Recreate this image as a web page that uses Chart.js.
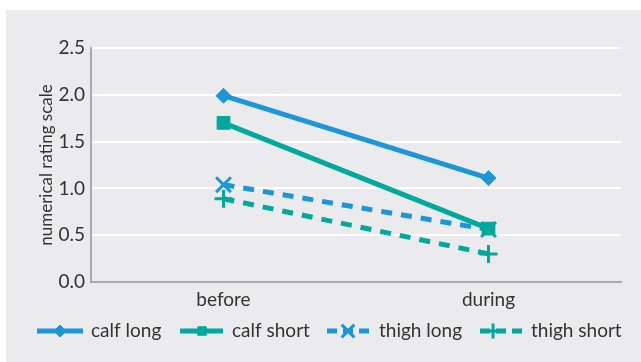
<!DOCTYPE html>
<html>
<head>
<meta charset="utf-8">
<script src="https://cdn.jsdelivr.net/npm/chart.js@4/dist/chart.umd.min.js"></script>
<style>
  html, body { margin: 0; padding: 0; background: #ffffff; }
  #wrap { width: 641px; height: 362px; }
</style>
</head>
<body>
<div id="wrap"><canvas id="nrsChart" width="641" height="362"></canvas></div>
<script>
var categories = ['before', 'during'];
var calfLong = [1.99, 1.11];
var calfShort = [1.70, 0.57];
var thighLong = [1.04, 0.56];
var thighShort = [0.89, 0.30];
var yTicks = [0, 0.5, 1, 1.5, 2, 2.5];

var blue = '#1a96d9';
var teal = '#00a99c';
var fontName = 'Lato';

// grey panel behind everything
var panelPlugin = {
	id: 'panel',
	beforeDraw: function(chart) {
		var ctx = chart.ctx;
		ctx.save();
		ctx.fillStyle = '#ebebee';
		ctx.fillRect(6, 10, chart.width - 6, chart.height - 10);
		ctx.restore();
	}
};

// legend drawn by hand: line + marker + text
var legendPlugin = {
	id: 'lineLegend',
	afterDraw: function(chart) {
		var ctx = chart.ctx;
		var y = 331;
		var items = [
			{ x1: 37, x2: 83, mx: 60, r: 6, tx: 91 },
			{ x1: 180, x2: 223, mx: 202, r: 6, tx: 232 },
			{ x1: 327, x2: 369, mx: 348, r: 9, tx: 379 },
			{ x1: 480, x2: 522, mx: 493, r: 7.5, tx: 531 }
		];
		ctx.save();
		chart.data.datasets.forEach(function(ds, i) {
			var it = items[i];
			ctx.strokeStyle = ds.borderColor;
			ctx.lineWidth = 5;
			ctx.setLineDash(ds.borderDash.length ? [10, 6] : []);
			ctx.beginPath();
			ctx.moveTo(it.x1, y);
			ctx.lineTo(it.x2, y);
			ctx.stroke();
			ctx.setLineDash([]);
			ctx.fillStyle = ds.pointBackgroundColor;
			ctx.strokeStyle = ds.pointBorderColor;
			ctx.lineWidth = ds.pointBorderWidth;
			Chart.helpers.drawPoint(ctx, {
				pointStyle: ds.pointStyle,
				radius: it.r,
				borderWidth: ds.pointBorderWidth,
				rotation: 0
			}, it.mx, y);
			ctx.fillStyle = '#333333';
			ctx.font = '19px ' + fontName;
			ctx.textBaseline = 'middle';
			ctx.fillText(ds.label, it.tx, y);
		});
		ctx.restore();
	}
};

function dataset(label, values, color, style, radius, dashed) {
	return {
		label: label,
		data: values,
		borderColor: color,
		backgroundColor: color,
		pointBackgroundColor: color,
		pointBorderColor: color,
		pointStyle: style,
		pointRadius: radius,
		pointHoverRadius: radius,
		pointBorderWidth: (style === 'crossRot' || style === 'cross') ? 3 : 1,
		borderWidth: 5,
		borderDash: dashed ? [11, 9] : [],
		tension: 0,
		fill: false
	};
}

var ctx = document.getElementById('nrsChart');
var nrsChart = new Chart(ctx, {
	type: 'line',
	data: {
		labels: categories,
		datasets: [
			dataset('calf long', calfLong, blue, 'rectRot', 7.5, false),
			dataset('calf short', calfShort, teal, 'rect', 9, false),
			dataset('thigh long', thighLong, blue, 'crossRot', 10.5, true),
			dataset('thigh short', thighShort, teal, 'cross', 9, true)
		]
	},
	options: {
		responsive: false,
		animation: false,
		layout: { padding: { left: 0, right: 20, top: 48, bottom: 50 } },
		plugins: {
			legend: { display: false },
			tooltip: { enabled: false }
		},
		scales: {
			x: {
				offset: true,
				grid: { display: false, drawTicks: false },
				border: { color: '#aaaaaa', width: 2 },
				ticks: { color: '#333333', font: { family: fontName, size: 19 }, padding: 6 },
				afterFit: function(scale) { scale.height = 30; }
			},
			y: {
				min: 0,
				max: 2.5,
				afterBuildTicks: function(scale) {
					scale.ticks = yTicks.map(function(v) { return { value: v }; });
				},
				grid: { color: '#ffffff', lineWidth: 2, drawTicks: false },
				border: { color: '#aaaaaa', width: 2 },
				ticks: {
					color: '#333333',
					font: { family: fontName, size: 19 },
					padding: 6,
					callback: function(v) { return Number(v).toFixed(1); }
				},
				title: {
					display: true,
					text: 'numerical rating scale',
					color: '#333333',
					font: { family: fontName, size: 17 },
					padding: { top: 36, bottom: 0 }
				},
				afterFit: function(scale) { scale.width = 91; }
			}
		}
	},
	plugins: [panelPlugin, legendPlugin]
});
</script>
</body>
</html>
